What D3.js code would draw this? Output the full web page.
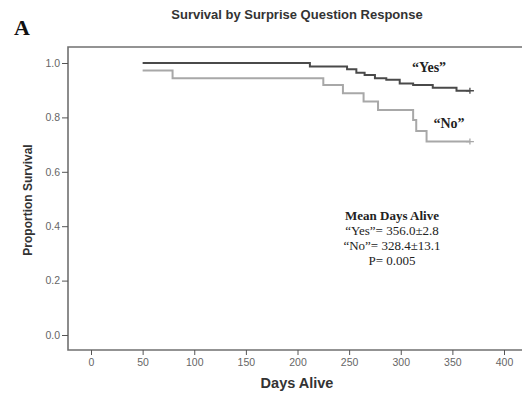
<!DOCTYPE html>
<meta charset="utf-8">
<style>
  body { margin: 0; background: #fff; }
  .tick text { font-family: "Liberation Sans", Arial, sans-serif; font-size: 10.5px; fill: #666; }
  .tick line { stroke: #555; }
  .domain { display: none; }
  .serif { font-family: "Liberation Serif", "Times New Roman", serif; }
</style>
<script src="https://cdn.jsdelivr.net/npm/d3@7"></script>
<svg id="chart" width="522" height="393"></svg>
<script>
// Kaplan-Meier steps: [day, proportion surviving]
var yesSteps = [[50, 1.0], [212, 0.987], [248, 0.977], [257, 0.964], [265, 0.956], [275, 0.944],
                [286, 0.938], [299, 0.925], [312, 0.919], [331, 0.909], [354, 0.898]];
var noSteps = [[50, 0.972], [79, 0.944], [225, 0.919], [244, 0.889], [264, 0.858], [278, 0.827],
               [312, 0.79], [315, 0.75], [325, 0.711]];
var lastDay = 367;
var xTicks = [0, 50, 100, 150, 200, 250, 300, 350, 400];
var yTicks = [0, 0.2, 0.4, 0.6, 0.8, 1.0];
var statLines = ["Mean Days Alive", "\u201cYes\u201d= 356.0\u00b12.8", "\u201cNo\u201d= 328.4\u00b113.1", "P= 0.005"];

var svg = d3.select('#chart');
var x = d3.scaleLinear().domain([0, 400]).range([91, 504]);
var y = d3.scaleLinear().domain([0, 1]).range([335, 63]);

// frame
svg.append('path')
  .attr('d', 'M522,47 H68 V350 H522')
  .attr('fill', 'none').attr('stroke', '#707070').attr('stroke-width', 1.6);

// axes
svg.append('g').attr('transform', 'translate(68,0)')
  .call(d3.axisLeft(y).tickValues(yTicks).tickFormat(d3.format('.1f')).tickSize(6).tickPadding(2));
svg.append('g').attr('transform', 'translate(0,350)')
  .call(d3.axisBottom(x).tickValues(xTicks).tickSize(5).tickPadding(4));

// curves
var line = d3.line().curve(d3.curveStepAfter).x(function(d){ return x(d[0]); }).y(function(d){ return y(d[1]); });
function drawCurve(steps, color) {
  var pts = steps.concat([[lastDay, steps[steps.length - 1][1]]]);
  svg.append('path').datum(pts).attr('d', line)
    .attr('fill', 'none').attr('stroke', color).attr('stroke-width', 2);
  var end = pts[pts.length - 1];
  svg.append('path')
    .attr('d', 'M' + (x(end[0]) - 4) + ',' + y(end[1]) + 'h8M' + x(end[0]) + ',' + (y(end[1]) - 3) + 'v6')
    .attr('stroke', color).attr('stroke-width', 1.3);
}
drawCurve(noSteps, '#a8a8a8');
drawCurve(yesSteps, '#4a4a4a');

// curve labels
svg.append('text').attr('class', 'serif').attr('x', 429).attr('y', 72)
  .attr('text-anchor', 'middle').attr('font-size', 14).attr('font-weight', 'bold').attr('fill', '#222')
  .text('\u201cYes\u201d');
svg.append('text').attr('class', 'serif').attr('x', 449).attr('y', 128)
  .attr('text-anchor', 'middle').attr('font-size', 14).attr('font-weight', 'bold').attr('fill', '#222')
  .text('\u201cNo\u201d');

// stats
svg.selectAll('.stat').data(statLines).enter().append('text')
  .attr('class', 'serif stat')
  .attr('x', 392).attr('y', function(d, i){ return 220 + i * 15; })
  .attr('text-anchor', 'middle').attr('font-size', 13).attr('fill', '#222')
  .attr('font-weight', function(d, i){ return i === 0 ? 'bold' : 'normal'; })
  .text(function(d){ return d; });

// titles
svg.append('text').attr('x', 297).attr('y', 19).attr('text-anchor', 'middle')
  .attr('font-family', 'Liberation Sans, Arial, sans-serif').attr('font-size', 13).attr('font-weight', 'bold')
  .attr('fill', '#333').text('Survival by Surprise Question Response');
svg.append('text').attr('class', 'serif').attr('x', 14).attr('y', 35)
  .attr('font-size', 22).attr('font-weight', 'bold').attr('fill', '#111').text('A');
svg.append('text').attr('transform', 'translate(32,200) rotate(-90)').attr('text-anchor', 'middle')
  .attr('font-family', 'Liberation Sans, Arial, sans-serif').attr('font-size', 12).attr('font-weight', 'bold')
  .attr('fill', '#333').text('Proportion Survival');
svg.append('text').attr('x', 297).attr('y', 388).attr('text-anchor', 'middle')
  .attr('font-family', 'Liberation Sans, Arial, sans-serif').attr('font-size', 14.5).attr('font-weight', 'bold')
  .attr('fill', '#333').text('Days Alive');
</script>
